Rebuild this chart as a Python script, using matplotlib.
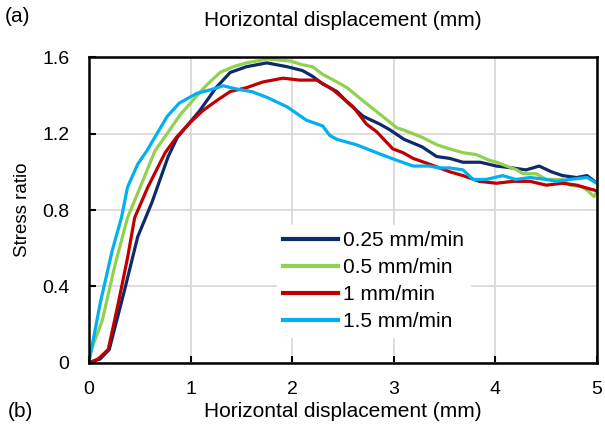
import matplotlib as mpl
import matplotlib.pyplot as plt

mpl.rcParams['font.family'] = ['Liberation Sans', 'DejaVu Sans']

# stress ratio vs horizontal displacement
x_025 = [0, 0.05, 0.11, 0.2, 0.35, 0.48, 0.62, 0.78, 0.87, 1.09, 1.25, 1.39, 1.55, 1.75, 1.85, 1.95,
         2.1, 2.2, 2.3, 2.44, 2.55, 2.7, 2.86, 2.96, 3.1, 3.28, 3.42, 3.55, 3.68, 3.85, 4.01, 4.17,
         4.3, 4.43, 4.55, 4.66, 4.8, 4.9, 5.0]
y_025 = [0, 0.01, 0.02, 0.07, 0.38, 0.66, 0.84, 1.08, 1.18, 1.32, 1.44, 1.52, 1.55, 1.57, 1.56, 1.55,
         1.53, 1.50, 1.46, 1.42, 1.36, 1.29, 1.25, 1.22, 1.17, 1.13, 1.08, 1.07, 1.05, 1.05, 1.03, 1.02,
         1.01, 1.03, 1.00, 0.98, 0.97, 0.98, 0.94]

x_05 = [0, 0.01, 0.13, 0.26, 0.38, 0.52, 0.65, 0.77, 0.9, 1.0, 1.15, 1.29, 1.42, 1.55, 1.75, 1.98,
        2.1, 2.2, 2.3, 2.44, 2.54, 2.7, 2.89, 3.03, 3.09, 3.28, 3.43, 3.55, 3.68, 3.81, 3.94, 4.01,
        4.21, 4.27, 4.4, 4.5, 4.66, 4.73, 4.86, 4.93, 4.97, 5.0]
y_05 = [0, 0.05, 0.22, 0.52, 0.76, 0.94, 1.11, 1.20, 1.30, 1.36, 1.45, 1.52, 1.55, 1.57, 1.59, 1.58,
        1.56, 1.55, 1.51, 1.47, 1.44, 1.37, 1.29, 1.23, 1.22, 1.18, 1.14, 1.12, 1.10, 1.09, 1.06, 1.05,
        1.01, 0.99, 0.99, 0.96, 0.96, 0.93, 0.92, 0.89, 0.87, 0.90]

x_1 = [0, 0.09, 0.19, 0.28, 0.38, 0.45, 0.58, 0.75, 0.86, 1.0, 1.12, 1.25, 1.39, 1.55, 1.71, 1.91,
       2.07, 2.24, 2.4, 2.6, 2.73, 2.83, 2.99, 3.09, 3.19, 3.35, 3.45, 3.55, 3.68, 3.84, 4.01, 4.17,
       4.34, 4.5, 4.66, 4.8, 4.93, 5.0]
y_1 = [0, 0.02, 0.07, 0.29, 0.55, 0.76, 0.92, 1.10, 1.18, 1.26, 1.32, 1.37, 1.42, 1.44, 1.47, 1.49,
       1.48, 1.48, 1.43, 1.34, 1.25, 1.21, 1.12, 1.10, 1.07, 1.04, 1.02, 1.00, 0.98, 0.95, 0.94, 0.95,
       0.95, 0.93, 0.94, 0.93, 0.91, 0.90]

x_15 = [0, 0.01, 0.11, 0.23, 0.32, 0.38, 0.48, 0.57, 0.77, 0.89, 1.06, 1.2, 1.32, 1.48, 1.6, 1.75,
        1.95, 2.14, 2.3, 2.37, 2.44, 2.64, 2.83, 3.03, 3.19, 3.35, 3.45, 3.55, 3.68, 3.78, 3.91, 4.07,
        4.2, 4.34, 4.5, 4.6, 4.73, 4.9, 5.0]
y_15 = [0, 0.03, 0.31, 0.59, 0.76, 0.92, 1.04, 1.11, 1.29, 1.36, 1.41, 1.43, 1.45, 1.43, 1.42, 1.39,
        1.34, 1.27, 1.24, 1.19, 1.17, 1.14, 1.10, 1.06, 1.03, 1.03, 1.02, 1.02, 1.01, 0.96, 0.96, 0.98,
        0.96, 0.97, 0.96, 0.95, 0.96, 0.97, 0.94]

labels = ["0.25 mm/min", "0.5 mm/min", "1 mm/min", "1.5 mm/min"]
colors = ["#0F2A6B", "#92D050", "#C00000", "#00B0F0"]
x_ticks = [0, 1, 2, 3, 4, 5]
y_ticks = [0, 0.4, 0.8, 1.2, 1.6]
y_tick_labels = ["0", "0.4", "0.8", "1.2", "1.6"]

fig = plt.figure(figsize=(6.05, 4.33), dpi=100)
ax = fig.add_axes([0.147, 0.162, 0.840, 0.706])

series = [(x_025, y_025), (x_05, y_05), (x_1, y_1), (x_15, y_15)]
for (xs, ys), lab, col in zip(series, labels, colors):
    ax.plot(xs, ys, color=col, lw=2.3, label=lab, solid_joinstyle='round')

ax.set_xlim(0, 5)
ax.set_ylim(0, 1.6)
ax.set_xticks(x_ticks)
ax.set_yticks(y_ticks)
ax.set_yticklabels(y_tick_labels)
ax.tick_params(direction='in', length=5, width=1.5, labelsize=14)
ax.tick_params(axis='y', pad=14)
ax.tick_params(axis='x', pad=13)
ax.grid(True, color='#D9D9D9', lw=1.3)
ax.set_axisbelow(True)
for s in ax.spines.values():
    s.set_linewidth(1.8)
    s.set_color('black')

ax.set_ylabel("Stress ratio", fontsize=13.5, labelpad=8)
ax.set_xlabel("Horizontal displacement (mm)", fontsize=15, labelpad=3)

fig.text(0.567, 0.952, "Horizontal displacement (mm)", fontsize=15, ha='center', va='center')
fig.text(0.008, 0.962, "(a)", fontsize=15, ha='left', va='center')
fig.text(0.013, 0.05, "(b)", fontsize=15, ha='left', va='center')

leg = ax.legend(loc='upper left', bbox_to_anchor=(0.35, 0.485), frameon=True, fontsize=15,
                handlelength=2.6, labelspacing=0.38, handletextpad=0.24, borderpad=0.3)
leg.get_frame().set_edgecolor('white')
leg.get_frame().set_facecolor('white')
leg.get_frame().set_alpha(1)
for h in leg.get_lines():
    h.set_linewidth(3)

fig.savefig("out.png", dpi=100)
